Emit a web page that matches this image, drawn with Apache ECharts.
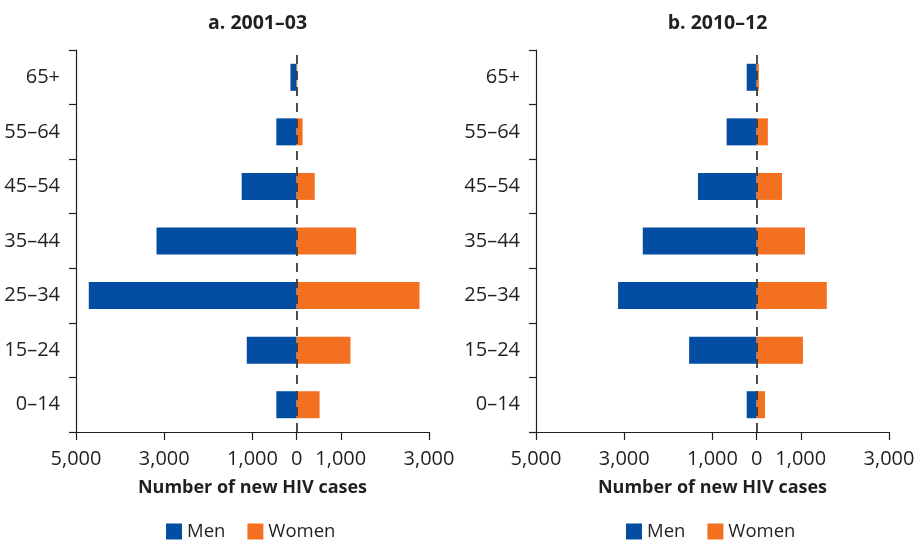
<!DOCTYPE html>
<html>
<head>
<meta charset="utf-8">
<script src="https://cdn.jsdelivr.net/npm/echarts@6/dist/echarts.min.js"></script>
<style>html,body{margin:0;padding:0;background:#fff;}#c{width:922px;height:541px;}</style>
</head>
<body>
<div id="c"></div>
<script>
// Data (bottom to top)
const ageGroups = ['0–14', '15–24', '25–34', '35–44', '45–54', '55–64', '65+'];
const men2001 = [460, 1130, 4710, 3175, 1245, 460, 140];
const women2001 = [520, 1220, 2785, 1350, 410, 135, 15];
const men2010 = [225, 1530, 3140, 2580, 1330, 680, 225];
const women2010 = [190, 1050, 1590, 1095, 575, 255, 50];
const tickValues = [-5000, -3000, -1000, 0, 1000, 3000];
const panelTitles = ['a. 2001–03', 'b. 2010–12'];
const axisTitle = 'Number of new HIV cases';

const TXT = '#231f20';
const FONT = '"Open Sans", "Noto Sans", sans-serif';
const BLUE = '#034ea2';
const ORANGE = '#f37021';

const chart = echarts.init(document.getElementById('c'));
const grids = [
  { left: 76, top: 50, width: 353, height: 382 },
  { left: 536, top: 50, width: 353, height: 382 }
];
function fmt(v) { return Math.abs(v).toLocaleString('en-US'); }
function xAxis(i) {
  return {
    type: 'value', gridIndex: i, min: -5000, max: 3000,
    name: axisTitle, nameLocation: 'middle', nameGap: 47,
    nameTextStyle: { color: TXT, fontFamily: FONT, fontSize: 18, fontWeight: 'bold' },
    axisLine: { show: true, onZero: false, lineStyle: { color: TXT, width: 1.2 } },
    axisTick: { show: true, customValues: tickValues, length: 8, lineStyle: { color: TXT, width: 1.2 } },
    axisLabel: { customValues: tickValues, formatter: fmt, color: TXT, fontFamily: FONT, fontSize: 20, margin: 17 },
    splitLine: { show: false }
  };
}
function yAxis(i) {
  return {
    type: 'category', gridIndex: i, data: ageGroups, position: 'left',
    axisLine: { show: true, onZero: false, lineStyle: { color: TXT, width: 1.2 } },
    axisTick: { show: true, length: 7, lineStyle: { color: TXT, width: 1.2 } },
    axisLabel: { color: TXT, fontFamily: FONT, fontSize: 20, margin: 16 },
    splitLine: { show: false }
  };
}
function series(i, men, women) {
  return [
    {
      name: 'Men', type: 'bar', xAxisIndex: i, yAxisIndex: i, stack: 's' + i, barWidth: 27,
      itemStyle: { color: BLUE }, data: men.map(v => -v)
    },
    {
      name: 'Women', type: 'bar', xAxisIndex: i, yAxisIndex: i, stack: 's' + i, barWidth: 27,
      itemStyle: { color: ORANGE }, data: women,
      markLine: {
        silent: true, symbol: 'none', label: { show: false }, z: 10,
        lineStyle: { color: '#3a3a3a', type: [9, 7], width: 1.8 },
        emphasis: { disabled: true },
        data: [{ xAxis: 0 }]
      }
    }
  ];
}
function legend(left) {
  return {
    left: left, top: 522, padding: 0, icon: 'rect', itemWidth: 16, itemHeight: 16, itemGap: 22,
    textStyle: { color: TXT, fontFamily: FONT, fontSize: 18.5 },
    data: ['Men', 'Women'], selectedMode: false
  };
}
const opt = {
  animation: false,
  title: panelTitles.map((t, i) => ({
    text: t, left: grids[i].left + grids[i].width / 2, top: 8, textAlign: 'center',
    textStyle: { color: TXT, fontFamily: FONT, fontSize: 19.5, fontWeight: 'bold' }
  })),
  legend: [legend(166), legend(626)],
  grid: grids,
  xAxis: [xAxis(0), xAxis(1)],
  yAxis: [yAxis(0), yAxis(1)],
  series: [].concat(series(0, men2001, women2001), series(1, men2010, women2010))
};
chart.setOption(opt);
</script>
</body>
</html>
